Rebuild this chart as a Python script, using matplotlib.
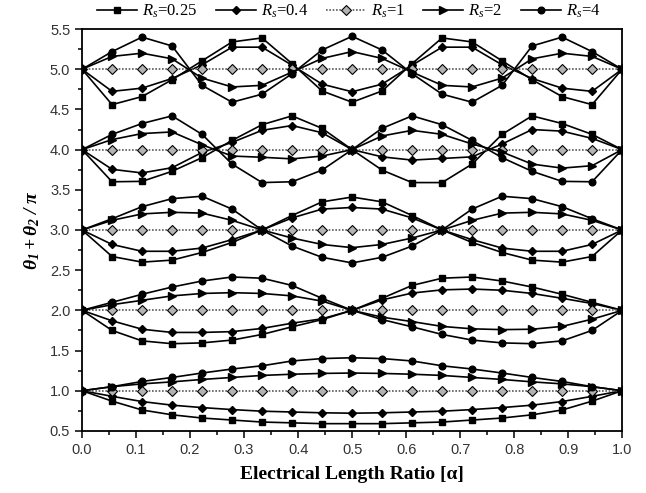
import numpy as np
import matplotlib.pyplot as plt
from matplotlib.ticker import MultipleLocator

plt.rcParams['mathtext.fontset'] = 'custom'
plt.rcParams['mathtext.it'] = 'Liberation Serif:italic'
plt.rcParams['mathtext.rm'] = 'Liberation Serif'
plt.rcParams['mathtext.bf'] = 'Liberation Serif:bold:italic'

# electrical length ratio, 19 points
alpha = [0.0, 0.0556, 0.1111, 0.1667, 0.2222, 0.2778, 0.3333, 0.3889, 0.4444, 0.5,
         0.5556, 0.6111, 0.6667, 0.7222, 0.7778, 0.8333, 0.8889, 0.9444, 1.0]

# one list per resonance branch (1st .. 5th)
rs025 = [
    [1.0, 0.87, 0.76, 0.70, 0.66, 0.635, 0.61, 0.60, 0.59, 0.59, 0.59, 0.60, 0.61, 0.635, 0.66, 0.70, 0.76, 0.87, 1.0],
    [2.0, 1.75, 1.62, 1.585, 1.595, 1.63, 1.70, 1.795, 1.885, 2.0, 2.15, 2.31, 2.40, 2.415, 2.365, 2.29, 2.20, 2.10, 2.0],
    [3.0, 2.67, 2.60, 2.625, 2.72, 2.845, 3.0, 3.18, 3.35, 3.41, 3.35, 3.18, 3.0, 2.845, 2.72, 2.625, 2.60, 2.67, 3.0],
    [4.0, 3.60, 3.605, 3.73, 3.90, 4.115, 4.31, 4.42, 4.265, 4.0, 3.745, 3.59, 3.59, 3.82, 4.19, 4.42, 4.325, 4.19, 4.0],
    [5.0, 4.56, 4.66, 4.87, 5.105, 5.34, 5.39, 5.07, 4.73, 4.59, 4.73, 5.07, 5.39, 5.34, 5.105, 4.87, 4.66, 4.56, 5.0],
]
rs04 = [
    [1.0, 0.93, 0.865, 0.82, 0.79, 0.765, 0.745, 0.735, 0.725, 0.72, 0.725, 0.735, 0.745, 0.765, 0.79, 0.82, 0.865, 0.93, 1.0],
    [2.0, 1.87, 1.765, 1.725, 1.725, 1.735, 1.775, 1.84, 1.895, 2.0, 2.13, 2.215, 2.255, 2.265, 2.25, 2.21, 2.15, 2.085, 2.0],
    [3.0, 2.82, 2.735, 2.735, 2.775, 2.88, 3.0, 3.15, 3.26, 3.28, 3.26, 3.15, 3.0, 2.88, 2.775, 2.735, 2.735, 2.82, 3.0],
    [4.0, 3.755, 3.71, 3.775, 3.965, 4.09, 4.24, 4.30, 4.21, 4.0, 3.91, 3.87, 3.89, 3.91, 4.07, 4.25, 4.23, 4.14, 4.0],
    [5.0, 4.725, 4.765, 4.885, 5.055, 5.275, 5.275, 5.05, 4.815, 4.72, 4.815, 5.05, 5.275, 5.275, 5.055, 4.885, 4.765, 4.725, 5.0],
]
rs1 = [
    [1.0, 1.0, 1.0, 1.0, 1.0, 1.0, 1.0, 1.0, 1.0, 1.0, 1.0, 1.0, 1.0, 1.0, 1.0, 1.0, 1.0, 1.0, 1.0],
    [2.0, 2.0, 2.0, 2.0, 2.0, 2.0, 2.0, 2.0, 2.0, 2.0, 2.0, 2.0, 2.0, 2.0, 2.0, 2.0, 2.0, 2.0, 2.0],
    [3.0, 3.0, 3.0, 3.0, 3.0, 3.0, 3.0, 3.0, 3.0, 3.0, 3.0, 3.0, 3.0, 3.0, 3.0, 3.0, 3.0, 3.0, 3.0],
    [4.0, 4.0, 4.0, 4.0, 4.0, 4.0, 4.0, 4.0, 4.0, 4.0, 4.0, 4.0, 4.0, 4.0, 4.0, 4.0, 4.0, 4.0, 4.0],
    [5.0, 5.0, 5.0, 5.0, 5.0, 5.0, 5.0, 5.0, 5.0, 5.0, 5.0, 5.0, 5.0, 5.0, 5.0, 5.0, 5.0, 5.0, 5.0],
]
rs2 = [
    [1.0, 1.05, 1.085, 1.11, 1.14, 1.165, 1.19, 1.205, 1.215, 1.22, 1.215, 1.205, 1.19, 1.165, 1.14, 1.11, 1.085, 1.05, 1.0],
    [2.0, 2.07, 2.125, 2.18, 2.21, 2.22, 2.21, 2.18, 2.115, 2.0, 1.915, 1.86, 1.80, 1.77, 1.76, 1.765, 1.80, 1.89, 2.0],
    [3.0, 3.12, 3.20, 3.22, 3.21, 3.12, 3.0, 2.90, 2.82, 2.78, 2.82, 2.90, 3.0, 3.12, 3.21, 3.22, 3.20, 3.12, 3.0],
    [4.0, 4.125, 4.20, 4.22, 4.06, 3.92, 3.905, 3.885, 3.92, 4.0, 4.17, 4.24, 4.19, 4.07, 3.97, 3.82, 3.77, 3.80, 4.0],
    [5.0, 5.16, 5.20, 5.13, 4.89, 4.78, 4.80, 4.965, 5.135, 5.22, 5.135, 4.965, 4.80, 4.78, 4.89, 5.13, 5.20, 5.16, 5.0],
]
rs4 = [
    [1.0, 1.05, 1.115, 1.165, 1.22, 1.27, 1.31, 1.37, 1.40, 1.41, 1.40, 1.37, 1.31, 1.27, 1.22, 1.165, 1.115, 1.05, 1.0],
    [2.0, 2.10, 2.20, 2.29, 2.365, 2.415, 2.40, 2.31, 2.15, 2.0, 1.885, 1.795, 1.70, 1.63, 1.595, 1.585, 1.62, 1.75, 2.0],
    [3.0, 3.14, 3.29, 3.39, 3.42, 3.26, 3.0, 2.80, 2.66, 2.59, 2.66, 2.80, 3.0, 3.26, 3.42, 3.39, 3.29, 3.14, 3.0],
    [4.0, 4.19, 4.325, 4.42, 4.19, 3.82, 3.59, 3.60, 3.745, 4.0, 4.265, 4.42, 4.31, 4.115, 3.90, 3.73, 3.605, 3.60, 4.0],
    [5.0, 5.22, 5.40, 5.29, 4.80, 4.59, 4.69, 4.945, 5.24, 5.41, 5.24, 4.945, 4.69, 4.59, 4.80, 5.29, 5.40, 5.22, 5.0],
]

rs_labels = ['0.25', '0.4', '1', '2', '4']
series = [rs025, rs04, rs1, rs2, rs4]
markers = ['s', 'D', 'D', '>', 'o']
msizes = [4.8, 4.4, 5, 6, 4.8]

fig = plt.figure(figsize=(6.46, 4.93), dpi=100)
ax = fig.add_axes([0.127, 0.126, 0.836, 0.815])

handles = []
for k, (data, lab) in enumerate(zip(series, rs_labels)):
    if lab == '1':
        style = dict(color='0.35', ls=(0, (1, 1)), lw=1.2, marker='D', ms=msizes[k],
                     mfc='0.7', mec='k', mew=0.8)
    else:
        style = dict(color='k', ls='-', lw=1.2, marker=markers[k], ms=msizes[k],
                     mfc='k', mec='k')
    for branch in data:
        h, = ax.plot(alpha, branch, **style)
    h.set_label(r'$R_s$=' + lab)
    handles.append(h)

ax.set_xlim(0, 1)
ax.set_ylim(0.5, 5.5)
ax.xaxis.set_major_locator(MultipleLocator(0.1))
ax.xaxis.set_minor_locator(MultipleLocator(0.05))
ax.yaxis.set_major_locator(MultipleLocator(0.5))
ax.yaxis.set_minor_locator(MultipleLocator(0.25))
ax.xaxis.set_major_formatter(plt.FormatStrFormatter('%.1f'))
ax.yaxis.set_major_formatter(plt.FormatStrFormatter('%.1f'))
ax.tick_params(which='both', direction='out', top=False, right=False, width=1.1)
ax.tick_params(which='major', length=5, labelsize=10.5, labelcolor='0.2')
ax.tick_params(axis='x', which='major', pad=4)
ax.tick_params(which='minor', length=3)
for lbl in ax.get_xticklabels() + ax.get_yticklabels():
    lbl.set_family('Liberation Sans')
for sp in ax.spines.values():
    sp.set_linewidth(1.3)

ax.set_xlabel('Electrical Length Ratio [α]', family='Liberation Serif',
              fontweight='bold', fontsize=14, labelpad=6)
ax.set_ylabel(r'$\mathbf{\theta_1 + \theta_2\ /\ \pi}$', fontsize=14, labelpad=6)

fig.legend(handles=handles, loc='upper center', ncol=5, bbox_to_anchor=(0.54, 1.025),
           frameon=False, prop={'family': 'Liberation Serif', 'size': 12},
           handlelength=2.4, handletextpad=0.3, columnspacing=1.1)

fig.savefig('out.png', dpi=100)
